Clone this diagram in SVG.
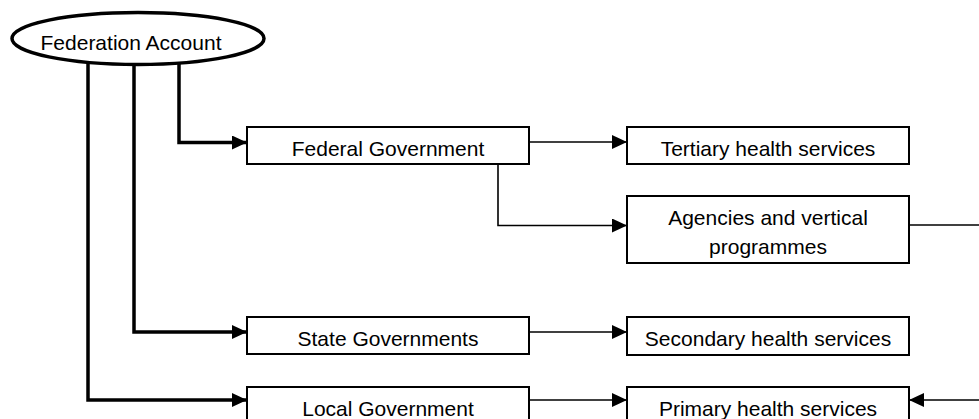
<svg xmlns="http://www.w3.org/2000/svg" width="979" height="419" viewBox="0 0 979 419">
  <defs>
    <style>
      .box { fill: #ffffff; stroke: #000000; stroke-width: 2; }
      .oval { fill: #ffffff; stroke: #000000; stroke-width: 3.5; }
      .lbl { font-family: "Liberation Sans", Arial, sans-serif; font-size: 21px; fill: #000000; text-anchor: middle; }
      .thick { fill: none; stroke: #000000; stroke-width: 3.5; stroke-linejoin: miter; marker-end: url(#arrow); }
      .thin { fill: none; stroke: #000000; stroke-width: 1.6; stroke-linejoin: miter; }
      .thinArrow { fill: none; stroke: #000000; stroke-width: 1.6; stroke-linejoin: miter; marker-end: url(#arrow); }
    </style>
    <marker id="arrow" markerUnits="userSpaceOnUse" markerWidth="16" markerHeight="15" refX="15" refY="7" orient="auto" viewBox="0 0 16 15">
      <path d="M0,0 L15,7 L0,14 Z" fill="#000000"/>
    </marker>
  </defs>
  <rect width="979" height="419" fill="#ffffff"/>

  <g id="connectors">
    <path class="thick" d="M179,62 V142.5 H247"/>
    <path class="thick" d="M134,64 V332 H247"/>
    <path class="thick" d="M88,63 V400 H247"/>
    <path class="thinArrow" d="M529,142 H627"/>
    <path class="thinArrow" d="M498,164 V225.5 H627"/>
    <path class="thinArrow" d="M529,332 H627"/>
    <path class="thinArrow" d="M529,400 H627"/>
    <path class="thin" d="M909,225 H979"/>
    <path class="thinArrow" d="M979,400 H909"/>
  </g>

  <g id="federation-account">
    <ellipse class="oval" cx="138" cy="38.5" rx="126" ry="26"/>
    <text class="lbl" x="131" y="50">Federation Account</text>
  </g>
  <g id="federal-government">
    <rect class="box" x="247" y="127" width="282" height="37"/>
    <text class="lbl" x="388" y="156">Federal Government</text>
  </g>
  <g id="tertiary-health-services">
    <rect class="box" x="627" y="127" width="282" height="37"/>
    <text class="lbl" x="768" y="156">Tertiary health services</text>
  </g>
  <g id="agencies-and-vertical-programmes">
    <rect class="box" x="627" y="196" width="282" height="67"/>
    <text class="lbl" x="768" y="225">Agencies and vertical</text>
    <text class="lbl" x="768" y="254">programmes</text>
  </g>
  <g id="state-governments">
    <rect class="box" x="247" y="317" width="282" height="37"/>
    <text class="lbl" x="388" y="346">State Governments</text>
  </g>
  <g id="secondary-health-services">
    <rect class="box" x="627" y="317" width="282" height="38"/>
    <text class="lbl" x="768" y="346">Secondary health services</text>
  </g>
  <g id="local-government">
    <rect class="box" x="247" y="387" width="282" height="40"/>
    <text class="lbl" x="388" y="416">Local Government</text>
  </g>
  <g id="primary-health-services">
    <rect class="box" x="627" y="387" width="282" height="40"/>
    <text class="lbl" x="768" y="416">Primary health services</text>
  </g>
</svg>
